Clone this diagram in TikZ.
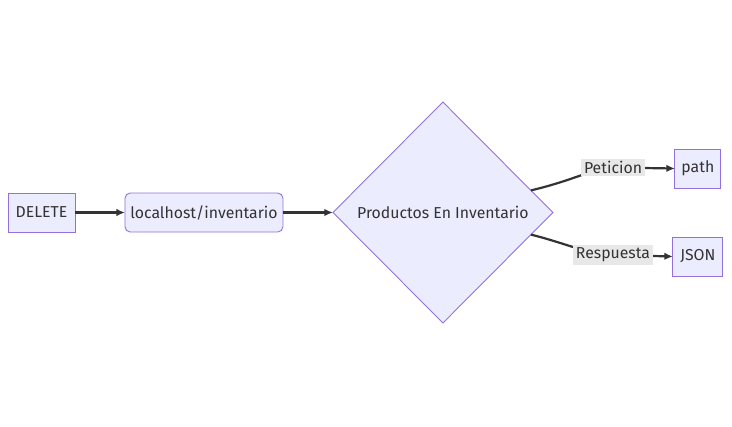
\documentclass[tikz,border=0pt]{standalone}
\usepackage{fontspec}
\setmainfont{Fira Sans}
\usepackage{tikz}
\usetikzlibrary{shapes.geometric, arrows.meta, positioning, calc}
\usepackage{xcolor}
\definecolor{relleno}{HTML}{ECECFF}
\definecolor{borde}{HTML}{9370DB}
\definecolor{trazo}{HTML}{333333}
\definecolor{fondoetiq}{HTML}{E8E8E8}

\begin{document}
\begin{tikzpicture}[
        x=0.02cm, y=-0.02cm,
        node distance=1cm,
        font=\fontsize{9}{11}\selectfont,
        caja/.style={
            rectangle,
            draw=borde,
            fill=relleno,
            line width=0.5pt,
            text=trazo,
            minimum height=0.78cm,
            inner sep=0pt,
            outer sep=0pt
        },
        redondeada/.style={
            caja,
            rounded corners=3pt
        },
        decision/.style={
            diamond,
            draw=borde,
            fill=relleno,
            line width=0.5pt,
            text=trazo,
            minimum width=4.4cm,
            minimum height=4.42cm,
            inner sep=0pt,
            outer sep=0pt
        },
        flecha/.style={
            -{Latex[length=1.7mm,width=1.5mm]},
            line width=1.25pt,
            draw=trazo
        },
        etiqueta/.style={
            fill=fondoetiq,
            text=trazo,
            inner sep=1.5pt
        }
    ]

    \useasboundingbox (0,0) rectangle (732,426);

    \node[caja, minimum width=1.34cm] (delete) at (41.5,212.5) {DELETE};

    \node[redondeada, minimum width=3.16cm, right=of delete] (local) {localhost/inventario};

    \node[decision, right=of local] (productos) {Productos En Inventario};

    \node[caja, minimum width=0.92cm, right=2.44cm of productos.east, yshift=0.88cm] (path) {path};

    \node[caja, minimum width=1.0cm, right=2.4cm of productos.east, yshift=-0.88cm] (json) {JSON};

    \coordinate (cpeticion) at (613,167.5);
    \coordinate (crespuesta) at (613,255);

    \draw[flecha] (delete) -- (local);

    \draw[flecha] (local) -- (productos);

    \draw[flecha] ($(productos.east)!0.2!(productos.north)$)
        .. controls (575,180) and (595,167.5) .. (cpeticion) -- (path.west);

    \draw[flecha] ($(productos.east)!0.2!(productos.south)$)
        .. controls (565,243) and (590,255) .. (crespuesta) -- (json.west);

    \node[etiqueta] (peticion) at (cpeticion) {Peticion};
    \node[etiqueta] (respuesta) at (crespuesta) {Respuesta};

\end{tikzpicture}
\end{document}
